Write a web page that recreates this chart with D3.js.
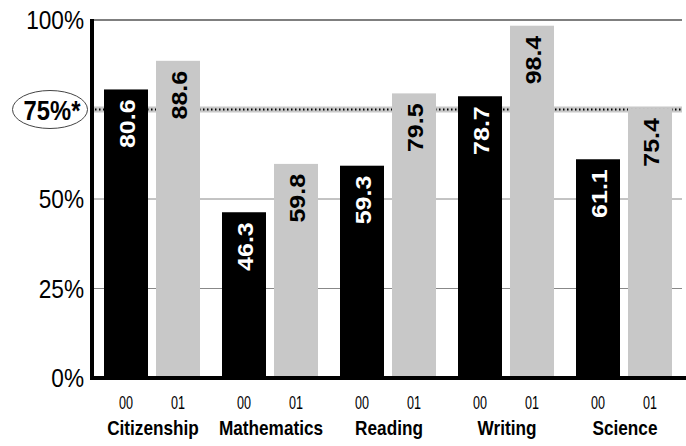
<!DOCTYPE html>
<html><head><meta charset="utf-8">
<script src="https://cdn.jsdelivr.net/npm/d3@7"></script>
<style>
body{margin:0;background:#fff;}
text{font-family:"Liberation Sans",Arial,sans-serif;}
</style></head>
<body><svg id="c" width="686" height="446"></svg>
<script>
const categories = ["Citizenship","Mathematics","Reading","Writing","Science"];
const years = ["00","01"];
const values00 = [80.6, 46.3, 59.3, 78.7, 61.1];
const values01 = [88.6, 59.8, 79.5, 98.4, 75.4];
const yTicks = [0, 25, 50, 100];
const yTickLabels = ["0%","25%","50%","100%"];
const targetLabel = "75%*";
const target = 75;

const svg = d3.select("#c");
const mLeft = 92, mRight = 682, mTop = 20, mBottom = 378;
const y = d3.scaleLinear().domain([0,100]).range([mBottom, mTop]);
const x0 = d3.scaleBand().domain(categories).range([mLeft, mRight]).paddingInner(0).paddingOuter(0);
const x1 = d3.scaleBand().domain(years).range([12, 108]).paddingInner(8/52).paddingOuter(0);
const colors = {"00":"#000000","01":"#c8c8c8"};

const data = categories.map((c,i)=>({cat:c, vals:[{yr:"00",v:values00[i]},{yr:"01",v:values01[i]}]}));

// gridlines
svg.append("g").selectAll("line").data([25,50]).join("line")
  .attr("x1",mLeft).attr("x2",mRight).attr("y1",d=>y(d)).attr("y2",d=>y(d))
  .attr("stroke","#888").attr("stroke-width",1);
svg.append("line").attr("x1",mLeft).attr("x2",mRight).attr("y1",y(100)).attr("y2",y(100))
  .attr("stroke","#555").attr("stroke-width",1.5);

// target band
svg.append("rect").attr("x",mLeft).attr("width",mRight-mLeft).attr("y",y(target)-3).attr("height",6).attr("fill","#c8c8c8");
svg.append("line").attr("x1",mLeft+3).attr("x2",mRight).attr("y1",y(target)).attr("y2",y(target))
  .attr("stroke","#000").attr("stroke-width",2).attr("stroke-dasharray","1.5,2.5");

// bars
const g = svg.append("g").selectAll("g").data(data).join("g")
  .attr("transform",d=>`translate(${x0(d.cat)},0)`);
g.selectAll("rect").data(d=>d.vals).join("rect")
  .attr("x",d=>x1(d.yr)).attr("width",x1.bandwidth())
  .attr("y",d=>y(d.v)).attr("height",d=>y(0)-y(d.v))
  .attr("fill",d=>colors[d.yr]);
g.selectAll("text.val").data(d=>d.vals).join("text").attr("class","val")
  .attr("transform",d=>`translate(${x1(d.yr)+x1.bandwidth()/2+9},${y(d.v)+10}) rotate(-90) scale(1,0.9)`)
  .attr("text-anchor","end").attr("font-size",25).attr("font-weight","bold")
  .attr("fill",d=>d.yr==="00"?"#fff":"#000")
  .text(d=>d.v.toFixed(1));
g.selectAll("text.yr").data(d=>d.vals).join("text").attr("class","yr")
  .attr("transform",d=>`translate(${x1(d.yr)+x1.bandwidth()/2},409) scale(0.68,1)`)
  .attr("text-anchor","middle").attr("font-size",18.5).attr("fill","#000")
  .text(d=>d.yr);
g.append("text")
  .attr("transform",`translate(${x0.bandwidth()/2+2},435) scale(0.86,1)`)
  .attr("text-anchor","middle").attr("font-size",20).attr("font-weight","bold")
  .text(d=>d.cat);

// axes lines
svg.append("line").attr("x1",mLeft).attr("x2",mLeft).attr("y1",mTop-1).attr("y2",mBottom+2)
  .attr("stroke","#000").attr("stroke-width",4);
svg.append("line").attr("x1",mLeft-2).attr("x2",mRight+4).attr("y1",mBottom).attr("y2",mBottom)
  .attr("stroke","#000").attr("stroke-width",4);

// y tick labels
svg.append("g").selectAll("text").data(yTicks).join("text")
  .attr("transform",d=>`translate(84,${y(d)+9}) scale(0.87,1)`).attr("text-anchor","end")
  .attr("font-size",26).text((d,i)=>yTickLabels[i]);

// target label with ellipse
svg.append("ellipse").attr("cx",50).attr("cy",y(target)).attr("rx",37.5).attr("ry",19)
  .attr("fill","#fff").attr("stroke","#444").attr("stroke-width",1);
svg.append("text").attr("transform",`translate(52,${y(target)+10}) scale(0.88,1)`).attr("text-anchor","middle")
  .attr("font-size",27).attr("font-weight","bold").text(targetLabel);
</script></body></html>
